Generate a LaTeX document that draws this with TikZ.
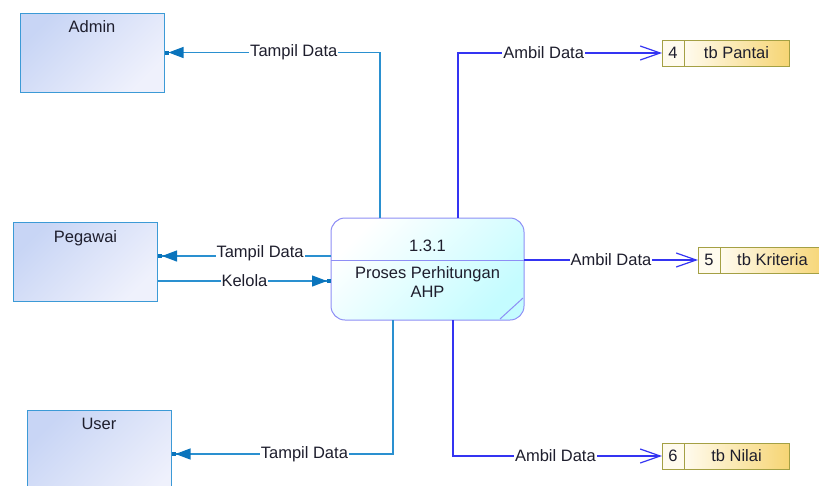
\documentclass[tikz,border=0pt]{standalone}
\usepackage{fontspec}
\setmainfont{Liberation Sans}
\usetikzlibrary{arrows.meta,positioning}
\definecolor{entline}{HTML}{3C9AD6}
\definecolor{entA}{HTML}{C8D5F5}
\definecolor{entB}{HTML}{EFF1FC}
\definecolor{eline}{HTML}{2A90D0}
\definecolor{etip}{HTML}{0A74BC}
\definecolor{procline}{HTML}{8E8EF5}
\definecolor{procB}{HTML}{C4FCFF}
\definecolor{sline}{HTML}{3434F2}
\definecolor{storeline}{HTML}{A4A044}
\definecolor{storeA}{HTML}{FFFBEE}
\definecolor{storeB}{HTML}{F6D574}
\definecolor{txt}{HTML}{1E1E2D}
\tikzset{
	entity/.style={draw=entline, line width=1pt, top color=entA, bottom color=entB, shading angle=45, minimum width=144pt, minimum height=79pt, inner sep=0pt},
	proc/.style={draw=procline, line width=1pt, rounded corners=14pt, top color=white, bottom color=procB, shading angle=45, minimum width=193pt, minimum height=102pt},
	storeid/.style={draw=storeline, line width=1pt, fill=storeA, minimum width=22pt, minimum height=26pt, inner sep=0pt, outer sep=0pt, text=txt},
	storename/.style={draw=storeline, line width=1pt, left color=storeA, right color=storeB, minimum width=105pt, minimum height=26pt, inner sep=0pt, outer sep=0pt, text=txt},
	eflow/.style={draw=eline, line width=1.2pt, -{Triangle[length=15pt,width=11pt,color=etip,sep=0pt]Rectangle[length=4pt,width=4pt,color=etip]}},
	sflow/.style={draw=sline, line width=1.2pt, -{Straight Barb[length=20pt,width=14pt]}},
	lbl/.style={fill=white, inner sep=1pt, text=txt},
}
\begin{document}
\begin{tikzpicture}[x=1pt, y=-1pt, font=\fontsize{16.5}{19}\selectfont]
	\useasboundingbox(0, 0) rectangle (819, 485);
	\clip(0, 0) rectangle (819, 485);
	\node[entity, label={[below=5pt, text=txt]north:Admin}](admin) at (92, 52.5){};
	\node[entity, label={[below=5pt, text=txt]north:Pegawai}](peg) at (85.5, 262){};
	\node[entity, minimum height=100pt, label={[below=5pt, text=txt]north:User}](user) at (99, 460){};
	\node[proc](proc) at (427.5, 269){};
	\draw[procline, line width=1pt](proc.west |- 0, 260)--(proc.east |- 0, 260);
	\draw[procline, line width=1pt](500, 319)--(523, 298);
	\node[text=txt](pid) at (427.5, 246){1.3.1};
	\node[text=txt, align=center](pname) at (427.5, 282){Proses Perhitungan\\AHP};
	\node[storeid](id4) at (673, 53){4};
	\node[storename, right=0pt of id4](pantai){tb Pantai};
	\node[storeid](id5) at (709, 260){5};
	\node[storename, right=0pt of id5](kriteria){tb Kriteria};
	\node[storeid](id6) at (673, 456){6};
	\node[storename, right=0pt of id6](nilai){tb Nilai};
	\coordinate(pa) at (380, 218);
	\coordinate(pb) at (458, 218);
	\coordinate(pc) at (331, 256);
	\coordinate(pd) at (331, 281);
	\coordinate(pe) at (524, 260);
	\coordinate(pf) at (393, 320);
	\coordinate(pg) at (453, 320);
	\draw[eflow](pa) |- node[lbl, pos=.7]{Tampil Data}(admin);
	\draw[eflow](pc)--node[lbl, pos=.41, yshift=3pt]{Tampil Data}(pc -| peg.east);
	\draw[eflow](pd -| peg.east)--node[lbl]{Kelola}(pd);
	\draw[eflow](pf) |- node[lbl, pos=.7]{Tampil Data}([yshift=6pt]user.east);
	\draw[sflow](pb) |- node[lbl, pos=.71]{Ambil Data}(id4);
	\draw[sflow](pe)--node[lbl]{Ambil Data}(id5);
	\draw[sflow](pg) |- node[lbl, pos=.745]{Ambil Data}(id6);
\end{tikzpicture}
\end{document}
